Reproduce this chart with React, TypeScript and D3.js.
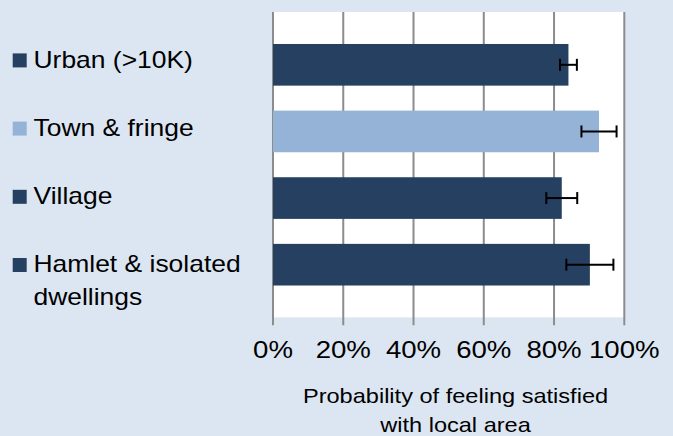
import React from "react";
import * as d3 from "d3";

const categories = ["Urban (>10K)", "Town & fringe", "Village", "Hamlet & isolated dwellings"];
const legendLines = [["Urban (>10K)"], ["Town & fringe"], ["Village"], ["Hamlet & isolated", "dwellings"]];
const values = [84.1, 92.8, 82.2, 90.2];
const errors = [2.4, 5.0, 4.4, 6.7];
const barColors = ["#254061", "#95B3D7", "#254061", "#254061"];
const xTicks = [0, 20, 40, 60, 80, 100];
const axisTitle = ["Probability of feeling satisfied", "with local area"];

const W = 673;
const H = 436;
const FONT = "'Liberation Sans', Arial, sans-serif";
const SX = 1.15;

function T({ x, y, size, anchor = "start", children }: any) {
  return (
    <text
      transform={`translate(${x},${y}) scale(${SX},1)`}
      x={0}
      y={0}
      textAnchor={anchor}
      fontSize={size}
      fill="#000"
    >
      {children}
    </text>
  );
}

export default function App() {
  const plotLeft = 273;
  const plotRight = 624.3;
  const plotTop = 12;
  const plotBottom = 317.3;

  const x = d3.scaleLinear().domain([0, 100]).range([plotLeft, plotRight]);
  const y = d3
    .scaleBand<string>()
    .domain(categories)
    .range([31.5, 298])
    .paddingInner(0.375)
    .paddingOuter(0.1875);

  const capH = 12;

  return (
    <svg
      width={W}
      height={H}
      style={{ position: "absolute", left: 0, top: 0, display: "block" }}
      fontFamily={FONT}
    >
      <rect x={0} y={0} width={W} height={H} fill="#DCE6F2" />
      <rect
        x={plotLeft}
        y={plotTop}
        width={plotRight - plotLeft}
        height={plotBottom - plotTop}
        fill="#FFFFFF"
      />
      {xTicks.map((t) => (
        <g key={t}>
          <line
            x1={x(t)}
            x2={x(t)}
            y1={plotTop}
            y2={plotBottom + 8}
            stroke="#8C8C8C"
            strokeWidth={2}
          />
          <T x={x(t)} y={357.5} size={24} anchor="middle">
            {t}%
          </T>
        </g>
      ))}
      {categories.map((c, i) => {
        const y0 = y(c)!;
        const bw = y.bandwidth();
        const cy = y0 + bw / 2;
        const lo = x(values[i] - errors[i]);
        const hi = x(values[i] + errors[i]);
        return (
          <g key={c}>
            <rect
              x={x(0)}
              y={y0}
              width={x(values[i]) - x(0)}
              height={bw}
              fill={barColors[i]}
            />
            <line x1={lo} x2={hi} y1={cy} y2={cy} stroke="#000" strokeWidth={2} />
            <line x1={lo} x2={lo} y1={cy - capH / 2} y2={cy + capH / 2} stroke="#000" strokeWidth={2} />
            <line x1={hi} x2={hi} y1={cy - capH / 2} y2={cy + capH / 2} stroke="#000" strokeWidth={2} />
          </g>
        );
      })}
      {legendLines.map((lines, i) => {
        const base = 67.7 + i * 68.2;
        return (
          <g key={i}>
            <rect x={12.7} y={base - 14.3} width={14} height={14} fill={barColors[i]} />
            {lines.map((ln, j) => (
              <T key={j} x={33.5} y={base + j * 33} size={23}>
                {ln}
              </T>
            ))}
          </g>
        );
      })}
      {axisTitle.map((ln, j) => (
        <T key={j} x={455.5} y={403.3 + j * 28.5} size={20.5} anchor="middle">
          {ln}
        </T>
      ))}
    </svg>
  );
}
